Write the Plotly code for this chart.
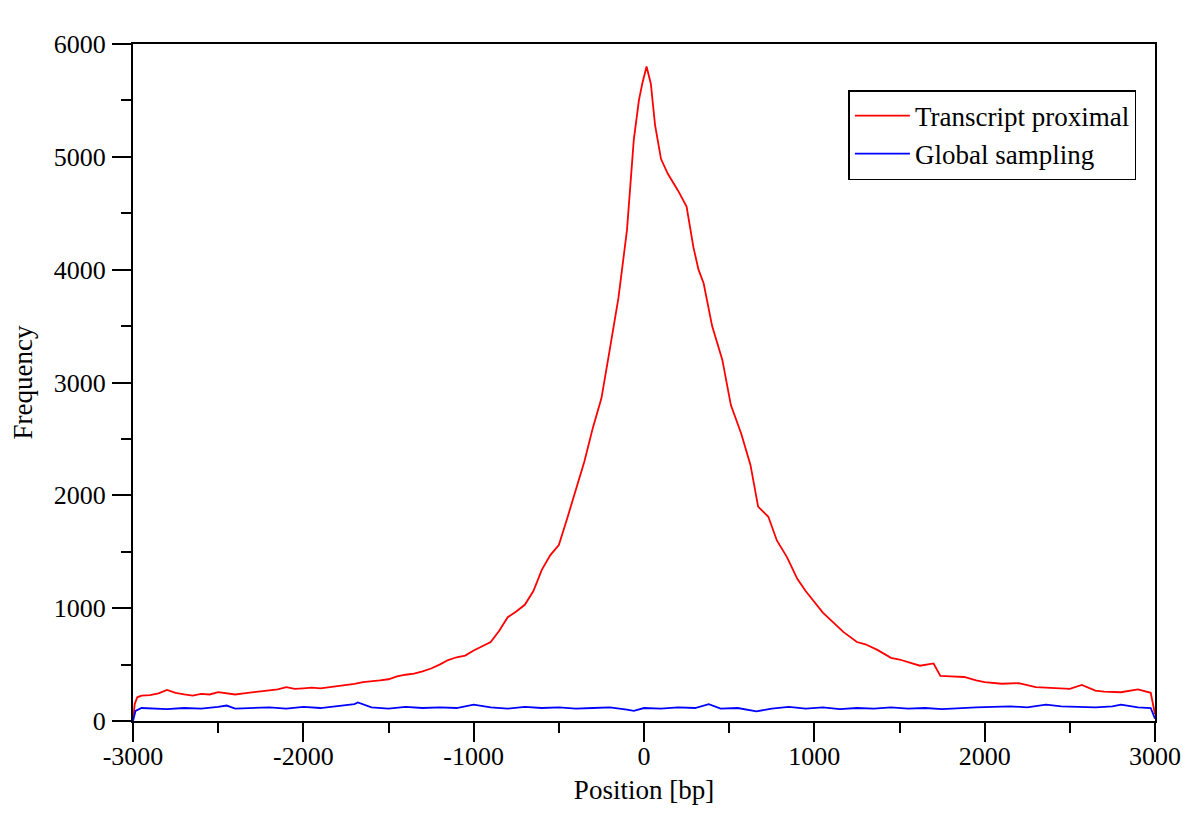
import plotly.graph_objects as go

# Transcript proximal (red)
red_x = [-3000, -2990, -2975, -2950, -2900, -2850, -2800, -2750, -2700, -2650, -2600, -2550,
         -2500, -2450, -2400, -2350, -2300, -2250, -2200, -2150, -2100, -2050, -2000, -1950,
         -1900, -1850, -1800, -1750, -1700, -1650, -1600, -1550, -1500, -1450, -1400, -1350,
         -1300, -1250, -1200, -1150, -1100, -1050, -1000, -950, -900, -850, -800, -750, -700,
         -650, -600, -550, -500, -450, -400, -350, -300, -250, -200, -150, -100, -60, -30, -10,
         15, 40, 65, 100, 140, 200, 250, 290, 320, 350, 400, 460, 510, 570, 625, 670, 730, 780,
         840, 900, 950, 1000, 1050, 1100, 1170, 1250, 1300, 1370, 1450, 1500, 1560, 1620, 1700,
         1740, 1800, 1880, 1950, 2000, 2100, 2200, 2300, 2400, 2500, 2570, 2650, 2700, 2800,
         2900, 2975, 3000]
red_y = [0, 150, 210, 225, 230, 245, 275, 250, 235, 225, 240, 235,
         255, 245, 235, 245, 255, 260, 270, 280, 300, 285, 290, 295,
         290, 300, 310, 315, 330, 345, 350, 360, 370, 395, 410, 420,
         440, 465, 500, 540, 565, 580, 625, 660, 700, 800, 920, 970, 1030,
         1150, 1340, 1470, 1560, 1800, 2050, 2300, 2600, 2860, 3300, 3750, 4350, 5150, 5500, 5650,
         5800, 5650, 5280, 4980, 4850, 4700, 4560, 4200, 4000, 3880, 3500, 3200, 2800, 2550, 2270,
         1900, 1810, 1600, 1450, 1260, 1150, 1050, 960, 890, 790, 700, 680, 630, 560, 545, 515,
         490, 510, 400, 395, 390, 360, 345, 330, 335, 300, 290, 285, 320, 270, 260, 255,
         280, 250, 60]

# Global sampling (blue)
blue_x = [-3000, -2985, -2950, -2900, -2800, -2700, -2600, -2500, -2450, -2400, -2300, -2200,
          -2100, -2000, -1900, -1800, -1700, -1680, -1600, -1500, -1400, -1300, -1200, -1100,
          -1000, -900, -800, -700, -600, -500, -400, -300, -200, -100, -60, 0, 100, 200, 300,
          380, 450, 550, 660, 750, 850, 950, 1050, 1150, 1250, 1350, 1450, 1550, 1650, 1750,
          1850, 1950, 2050, 2150, 2250, 2360, 2450, 2550, 2650, 2750, 2800, 2900, 2975, 3000]
blue_y = [0, 90, 115, 110, 105, 115, 110, 125, 137, 110, 115, 120,
          110, 125, 115, 130, 150, 165, 120, 110, 125, 115, 120, 115,
          145, 120, 110, 125, 115, 120, 110, 115, 120, 100, 90, 115, 110, 120, 115,
          150, 110, 115, 85, 110, 125, 110, 120, 105, 115, 110, 120, 110, 115, 105,
          115, 120, 125, 130, 120, 145, 130, 125, 120, 130, 145, 120, 115, 20]

x_ticks = [-3000, -2000, -1000, 0, 1000, 2000, 3000]
y_ticks = [0, 1000, 2000, 3000, 4000, 5000, 6000]

FONT = "Liberation Serif, Times New Roman, serif"

fig = go.Figure()
fig.add_trace(go.Scatter(x=red_x, y=red_y, mode="lines", name="Transcript proximal",
                         line=dict(color="#ff0000", width=1.8)))
fig.add_trace(go.Scatter(x=blue_x, y=blue_y, mode="lines", name="Global sampling",
                         line=dict(color="#0000ff", width=1.8)))

axis_common = dict(
    showline=True, linecolor="black", linewidth=2, mirror=True,
    ticks="outside", ticklen=19, tickwidth=2, tickcolor="black",
    showgrid=False, zeroline=False,
    tickfont=dict(family=FONT, size=26, color="black"),
)

fig.update_xaxes(range=[-3000, 3000], tickvals=x_ticks,
                 ticktext=[str(v) for v in x_ticks], ticklabelstandoff=-8,
                 minor=dict(ticks="outside", ticklen=10, tickwidth=2, tickcolor="black", dtick=500, tick0=0),
                 title=dict(text="Position [bp]", font=dict(family=FONT, size=27, color="black"), standoff=10),
                 **axis_common)
fig.update_yaxes(range=[0, 6000], tickvals=y_ticks,
                 ticktext=[str(v) for v in y_ticks], ticklabelstandoff=1,
                 minor=dict(ticks="outside", ticklen=10, tickwidth=2, tickcolor="black", dtick=500, tick0=0),
                 title=dict(text="Frequency", font=dict(family=FONT, size=27, color="black"), standoff=13),
                 **axis_common)

fig.update_layout(
    width=1200, height=821,
    margin=dict(l=125, r=53, t=36, b=108),
    paper_bgcolor="white", plot_bgcolor="white",
    font=dict(family=FONT, color="black"),
    legend=dict(x=0.700, y=0.932, xanchor="left", yanchor="top",
                bordercolor="black", borderwidth=1.5, bgcolor="white",
                font=dict(family=FONT, size=27, color="black"),
                itemwidth=55, tracegroupgap=0),
    showlegend=True,
)

fig.write_html("out.html")
